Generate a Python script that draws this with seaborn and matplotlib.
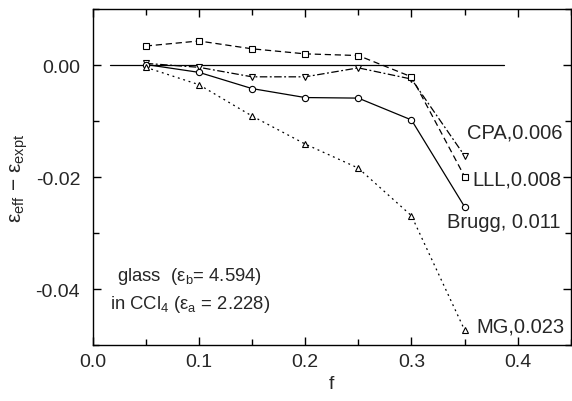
import matplotlib
matplotlib.use("Agg")
import matplotlib.pyplot as plt
import seaborn as sns
import numpy as np
import pandas as pd
from matplotlib.ticker import MultipleLocator

f = [0.05, 0.10, 0.15, 0.20, 0.25, 0.30, 0.35]
cpa = [0.0003, -0.0004, -0.0021, -0.0021, -0.0005, -0.0025, -0.0162]
lll = [0.0034, 0.0043, 0.0029, 0.0020, 0.0017, -0.0021, -0.0199]
brugg = [0.0001, -0.0013, -0.0042, -0.0058, -0.0059, -0.0098, -0.0253]
mg = [-0.0004, -0.0035, -0.0091, -0.0141, -0.0184, -0.0269, -0.0473]

series_names = ["CPA", "LLL", "Brugg", "MG"]
series_labels = ["CPA,0.006", "LLL,0.008", "Brugg, 0.011", "MG,0.023"]
zero_line_x = [0.016, 0.387]
zero_line_y = [0.0, 0.0]

sns.set_theme(style="ticks")
plt.rcParams['font.family'] = ['Liberation Sans', 'DejaVu Sans']
plt.rcParams['mathtext.fontset'] = 'custom'
plt.rcParams['mathtext.rm'] = 'Liberation Sans'
plt.rcParams['mathtext.it'] = 'Liberation Sans'

fig = plt.figure(figsize=(5.72, 4.02), dpi=100)
ax = fig.add_axes([0.162, 0.139, 0.836, 0.836])

styles = {
    "CPA": dict(marker="v", linestyle=(0, (6, 2, 1.5, 2))),
    "LLL": dict(marker="s", linestyle=(0, (5, 3))),
    "Brugg": dict(marker="o", linestyle="-"),
    "MG": dict(marker="^", linestyle=(0, (1.5, 3))),
}
data = {"CPA": cpa, "LLL": lll, "Brugg": brugg, "MG": mg}

sns.lineplot(x=zero_line_x, y=zero_line_y, ax=ax, color="black", linewidth=0.9)
for name in series_names:
    st = styles[name]
    sns.lineplot(x=f, y=data[name], ax=ax, color="black", linewidth=0.9,
                 marker=st["marker"], linestyle=st["linestyle"],
                 markersize=4.5, markerfacecolor="white",
                 markeredgecolor="black", markeredgewidth=0.8)

ax.set_xlim(0.0, 0.45)
ax.set_ylim(-0.05, 0.01)
ax.xaxis.set_major_locator(MultipleLocator(0.1))
ax.xaxis.set_minor_locator(MultipleLocator(0.05))
ax.yaxis.set_major_locator(MultipleLocator(0.02))
ax.yaxis.set_minor_locator(MultipleLocator(0.01))
ax.xaxis.set_major_formatter(matplotlib.ticker.FuncFormatter(lambda v, p: f"{v:.1f}"))
ax.yaxis.set_major_formatter(matplotlib.ticker.FuncFormatter(lambda v, p: f"{v:.2f}" if abs(v) > 1e-9 else "0.00"))
ax.tick_params(which="both", direction="in", top=True, right=True, color="black", width=1.0)
ax.tick_params(which="major", length=6, labelsize=14)
ax.tick_params(axis="y", which="major", pad=9)
ax.tick_params(axis="x", which="major", pad=6)
ax.tick_params(which="minor", length=4)
for s in ax.spines.values():
    s.set_visible(True)
    s.set_color("black")
    s.set_linewidth(1.0)

ax.set_xlabel("f", fontsize=14, labelpad=3)
ax.set_ylabel(r"$\mathrm{\varepsilon_{eff}}$ $-$ $\mathrm{\varepsilon_{expt}}$", fontsize=15, labelpad=4)

label_pos = [(0.352, -0.0120), (0.357, -0.0204), (0.333, -0.0280), (0.361, -0.0466)]
for lab, (x, y) in zip(series_labels, label_pos):
    ax.text(x, y, lab, fontsize=14.5, ha="left", va="center", clip_on=False)

ax.text(0.0914, -0.0376, r"glass  ($\mathrm{\varepsilon_b}$= 4.594)", fontsize=13.3, ha="center", va="center")
ax.text(0.0914, -0.0426, r"in CCl$_4$ ($\mathrm{\varepsilon_a}$ = 2.228)", fontsize=13.3, ha="center", va="center")

fig.savefig("out.png", dpi=100)
